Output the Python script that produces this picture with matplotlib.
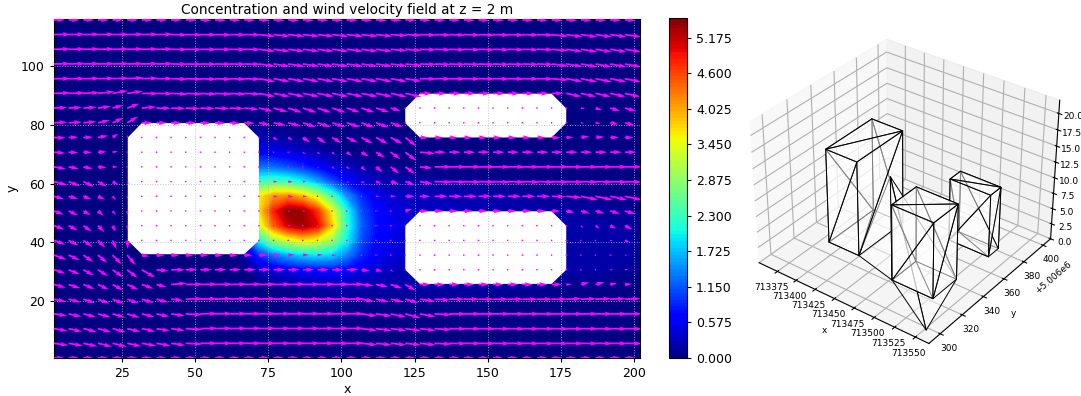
# Concentration / wind field at z = 2 m and the building mesh next to it
import numpy as np
import matplotlib
matplotlib.use('Agg')
import matplotlib.pyplot as plt
from matplotlib.patches import Polygon
from mpl_toolkits.mplot3d.art3d import Poly3DCollection

# --- CONCENTRATION (nodes every 5 m) ---
x_conc = [61.8, 66.8, 71.8, 76.8, 81.8, 86.8, 91.8, 96.8, 101.8, 106.8, 111.8, 116.8, 121.8,
          126.8, 136.8, 146.8, 156.8, 166.8, 176.8, 186.8, 196.8, 201.8]
y_conc = [85.7, 80.7, 75.7, 70.7, 65.7, 60.7, 55.7, 50.7, 45.7, 40.7, 35.7, 30.7, 25.7, 20.7, 15.7, 10.7]
conc = [
    [0.00, 0.00, 0.00, 0.00, 0.00, 0.00, 0.00, 0.00, 0.00, 0.00, 0.00, 0.00, 0.00, 0.00, 0.00, 0.00, 0.00, 0.00, 0.00, 0.00, 0.00, 0.00],
    [0.00, 0.01, 0.05, 0.05, 0.04, 0.03, 0.02, 0.01, 0.00, 0.00, 0.00, 0.00, 0.00, 0.00, 0.00, 0.00, 0.00, 0.00, 0.00, 0.00, 0.00, 0.00],
    [0.00, 0.15, 0.30, 0.18, 0.15, 0.10, 0.06, 0.03, 0.02, 0.01, 0.00, 0.00, 0.00, 0.00, 0.00, 0.00, 0.00, 0.00, 0.00, 0.00, 0.00, 0.00],
    [0.00, 0.30, 0.65, 0.55, 0.45, 0.33, 0.22, 0.14, 0.07, 0.04, 0.02, 0.01, 0.01, 0.01, 0.01, 0.01, 0.01, 0.00, 0.00, 0.00, 0.00, 0.00],
    [0.00, 0.60, 1.30, 1.25, 1.10, 0.90, 0.65, 0.45, 0.30, 0.18, 0.12, 0.08, 0.06, 0.05, 0.04, 0.03, 0.03, 0.02, 0.01, 0.01, 0.00, 0.00],
    [0.00, 1.10, 2.30, 2.40, 2.30, 2.00, 1.60, 1.10, 0.70, 0.45, 0.30, 0.22, 0.20, 0.16, 0.13, 0.10, 0.08, 0.06, 0.05, 0.03, 0.02, 0.02],
    [0.00, 1.80, 3.60, 4.10, 4.20, 3.90, 3.30, 2.40, 1.50, 0.90, 0.55, 0.40, 0.32, 0.30, 0.26, 0.22, 0.18, 0.14, 0.10, 0.08, 0.06, 0.05],
    [0.00, 1.80, 3.60, 4.80, 5.45, 5.35, 4.70, 3.50, 2.10, 1.10, 0.70, 0.50, 0.42, 0.32, 0.30, 0.26, 0.22, 0.18, 0.16, 0.14, 0.12, 0.10],
    [0.00, 1.60, 3.20, 4.40, 5.10, 5.35, 5.00, 3.80, 2.20, 1.20, 0.75, 0.55, 0.48, 0.34, 0.30, 0.27, 0.24, 0.22, 0.20, 0.18, 0.16, 0.14],
    [0.00, 0.80, 2.00, 2.90, 3.30, 3.60, 3.40, 2.90, 2.00, 1.10, 0.70, 0.50, 0.42, 0.34, 0.30, 0.27, 0.24, 0.22, 0.22, 0.20, 0.18, 0.16],
    [0.00, 0.20, 0.90, 1.30, 1.60, 1.80, 1.90, 1.80, 1.40, 0.90, 0.60, 0.45, 0.40, 0.32, 0.30, 0.27, 0.24, 0.22, 0.22, 0.20, 0.18, 0.16],
    [0.00, 0.03, 0.30, 0.45, 0.55, 0.65, 0.70, 0.75, 0.65, 0.50, 0.40, 0.30, 0.25, 0.25, 0.25, 0.23, 0.22, 0.20, 0.20, 0.18, 0.15, 0.12],
    [0.00, 0.00, 0.04, 0.08, 0.12, 0.18, 0.22, 0.24, 0.24, 0.22, 0.20, 0.20, 0.20, 0.20, 0.20, 0.18, 0.16, 0.14, 0.10, 0.08, 0.06, 0.05],
    [0.00, 0.00, 0.00, 0.01, 0.02, 0.05, 0.07, 0.09, 0.10, 0.10, 0.10, 0.10, 0.10, 0.10, 0.10, 0.08, 0.07, 0.05, 0.03, 0.02, 0.01, 0.01],
    [0.00, 0.00, 0.00, 0.00, 0.00, 0.01, 0.01, 0.02, 0.02, 0.03, 0.03, 0.03, 0.03, 0.03, 0.03, 0.02, 0.02, 0.01, 0.01, 0.00, 0.00, 0.00],
    [0.00, 0.00, 0.00, 0.00, 0.00, 0.00, 0.00, 0.00, 0.00, 0.00, 0.00, 0.00, 0.00, 0.00, 0.00, 0.00, 0.00, 0.00, 0.00, 0.00, 0.00, 0.00],
]
conc_ticks = [0.000, 0.575, 1.150, 1.725, 2.300, 2.875, 3.450, 4.025, 4.600, 5.175]

# --- WIND FIELD (arrow length x10 and direction in degrees, top row first) ---
x_wind = [1.8 + 5 * k for k in range(40)]
y_wind = [115.7 - 5 * k for k in range(24)]
speed_rows = [
    [32] * 40,
    [48] * 40,
    [48] * 40,
    [48] * 40,
    [48] * 40,
    [48] * 4 + [45, 45] + [48] * 19 + [35] * 10 + [45] * 5,
    [38, 38, 38, 38, 32, 38] + [42] * 14 + [40] * 3 + [30, 0] + [0] * 10 + [0, 12, 20, 30, 35],
    [38, 38, 38, 35, 34, 36] + [30] * 8 + [32, 36, 38, 40, 40, 40, 40, 40, 40, 38] + [0] + [0] * 10 + [0, 10, 15, 25, 30],
    [33, 28, 28, 30, 20, 8] + [0] * 8 + [0, 15, 15, 25, 30, 32, 35, 37, 39, 39] + [40] + [25] * 10 + [20, 25, 25, 25, 25],
    [33, 28, 25, 25, 15, 3] + [0] * 8 + [0, 3, 4, 10, 10, 12, 18, 25, 30, 35] + [40] + [45] + [33] * 14,
    [35, 30, 28, 25, 15, 3] + [0] * 8 + [0, 5, 2, 5, 6, 10, 12, 17, 25, 32] + [35] + [36] + [50] * 14,
    [40, 35, 35, 30, 20, 8] + [0] * 8 + [6, 12, 14, 10, 4, 8, 9, 12, 18, 25] + [30] + [37] + [50] * 14,
    [30, 28, 25, 23, 15, 10] + [0] * 8 + [0, 13, 15, 12, 5, 4, 5, 5, 10, 15] + [27] + [30] + [38] * 8 + [40, 45, 50, 50, 50, 50],
    [30, 30, 25, 22, 15, 13] + [0] * 8 + [0, 3, 8, 8, 5, 1, 1, 1, 2, 5] + [20] + [25] * 10 + [25, 27, 27, 30, 32],
    [32, 30, 30, 27, 20, 12] + [0] * 8 + [0, 2, 8, 3, 1, 1, 1, 1, 1, 1] + [0] * 11 + [0, 10, 15, 20, 25],
    [35, 32, 32, 30, 28, 25] + [0] * 8 + [0, 2, 2, 2, 2, 2, 2, 2, 2, 2] + [0] * 11 + [0, 3, 3, 8, 15],
    [38, 35, 35, 35, 38, 38] + [22] + [23] * 7 + [25] + [20, 18, 18, 15, 12, 3, 4, 3, 3] + [0] * 11 + [0, 2, 2, 5, 8],
    [35, 35, 35, 35, 38, 38, 45, 35, 40] + [33] * 12 + [25, 20, 10] + [0] * 11 + [0, 3, 5, 8, 10],
    [35] * 5 + [36, 36, 30, 45] + [50] * 12 + [35, 35, 35, 35] + [30] * 10 + [15] + [25, 27, 20, 20],
    [36] * 8 + [35] + [50] * 12 + [38, 38, 38, 40] + [45] * 15,
    [38] * 8 + [40, 48] + [50] * 11 + [46] * 4 + [46] + [50] * 14,
    [40] * 9 + [48] + [50] * 11 + [46] * 4 + [46] + [50] * 14,
    [42] * 9 + [48] + [50] * 11 + [46] * 4 + [46] + [50] * 14,
    [30] * 40,
]
angle_rows = [
    [0] * 10 + [-2] * 30,
    [1] * 8 + [-1] * 6 + [-6] * 9 + [-4, -3] + [-2] * 9 + [-6, -8, -8, -8, -8, -8],
    [1] * 8 + [-1] * 6 + [-7] * 9 + [-5, -4] + [-2] * 9 + [-5, -8, -9, -9, -9, -9],
    [1] * 8 + [-1] * 6 + [-8] * 9 + [-7, -5] + [-2] * 9 + [-7, -9, -10, -10, -10, -10],
    [0, 0, 1, 1, 2, 3, 2, 0] + [-2] * 6 + [-10] * 9 + [-10, -9] + [-1] * 9 + [-5, -10, -11, -11, -11, -11],
    [2, 2, 3, 6, 10, 8, -1, -1] + [-3] * 6 + [-11] * 9 + [-12, -12] + [0] * 10 + [-12] * 5,
    [3, 3, 4, 8, 15, 20, 5, -1] + [-2] * 5 + [-5] + [-13, -15, -18, -18, -18, -18, -18, -18, -17, -15, 0] + [0] * 10 + [0, -10, -18, -15, -15],
    [3, 3, 5, 12, 25, 30] + [0, 0, -1, -1, -2, -2, -3, -3] + [-10, -12, -15, -18, -18, -18, -18, -20, -20, -20] + [0] + [0] * 10 + [0, -10, -10, -10, -15],
    [-2, 2, 2, 10, 35, 80] + [0] * 8 + [0, -35, -35, -35, -35, -30, -25, -28, -28, -28] + [-38] + [-2] * 10 + [2, 8, 5, 0, 0],
    [-5, -3, -2, 3, 10, 30] + [0] * 8 + [0, -30, -30, -38, -40, -40, -35, -30, -32, -35] + [-38] + [-5] + [0] * 14,
    [-10, -10, -10, -5, 0, 0] + [0] * 8 + [0, -30, -30, -30, -40, -40, -35, -40, -40, -38] + [-35] + [-5] + [0] * 14,
    [-15, -22, -25, -30, -30, -50] + [0] * 8 + [0, -5, -5, -5, -5, -15, -25, -30, -20, -15] + [-20] + [-10] + [-2] * 14,
    [-15, -15, -20, -25, -50, -80] + [0] * 8 + [0, -8, -5, -5, 0, 0, 0, 0, 0, 0] + [0] + [0] + [0] * 8 + [-2, -5, -12, -12, -12, -12],
    [-20, -25, -30, -40, -50, -85] + [0] * 8 + [0, -10, -10, -10, -10, 0, 0, 0, 0, 0] + [15] + [0] * 10 + [-10, -15, -15, -15, -15],
    [-20, -28, -35, -45, -65, -85] + [0] * 8 + [0] * 10 + [0] * 11 + [0, -45, -35, -25, -25],
    [-20, -28, -35, -45, -65, -85] + [0] * 8 + [0] * 10 + [0] * 11 + [0, 0, 0, -10, -20],
    [-20, -25, -35, -40, -45, -50, -10] + [-2] * 7 + [0] + [3, 3, 5, 5, 0, 0, 0, 0, 0] + [0] * 11 + [0, 0, 0, 0, 0],
    [-18, -22, -28, -32, -35, -38, -30, -5, 0] + [1] * 12 + [-8, -15, -40] + [0] * 11 + [0, 10, 10, 10, 10],
    [-15, -18, -22, -25, -28, -25, -20, -15, 5] + [1] * 12 + [-5, -10, -18, -30] + [0] * 10 + [5, 15, 15, 10, 5],
    [-12, -15, -18, -20, -22, -20, -17, -15, -5] + [2] * 6 + [1] * 6 + [-10, -12, -12, -15] + [-8, -3] + [0] * 8 + [2] * 5,
    [-8, -12, -14, -15, -16, -16, -14, -12, -8, -3] + [1] * 11 + [-8, -8, -12, -15] + [-10, -3] + [0] * 13,
    [-10, -13, -14, -15, -15, -13, -12, -10, -8, -4] + [1] * 11 + [-7, -7, -7, -8] + [-7, -4] + [-1] * 13,
    [-8, -10, -12, -13, -13, -12, -10, -10, -8, -3] + [0] * 11 + [-6, -6, -6, -6] + [-6, -3] + [-1] * 13,
    [0] * 40,
]

# --- BUILDING OUTLINES AT z = 2 m ---
building_left = [(27, 75.7), (31.8, 80.6), (66.8, 80.6), (71.8, 75.7), (71.8, 40.7), (66.8, 36), (31.8, 36), (27, 40.7)]
building_top = [(121.8, 85.6), (126.8, 90.6), (171.8, 90.6), (176.8, 85.6), (176.8, 80.6), (171.8, 75.7), (126.8, 75.7), (121.8, 80.6)]
building_low = [(121.8, 45.7), (126.8, 50.6), (171.8, 50.6), (176.8, 45.7), (176.8, 30.7), (171.8, 25.9), (126.8, 25.9), (121.8, 30.7)]

# --- BUILDING BOXES IN THE MESH (x0, x1, y0, y1, height) ---
boxes = [
    (713384, 713424, 5006329, 5006370, 15.0),
    (713477, 713528, 5006322, 5006344, 12.0),
    (713482, 713532, 5006372, 5006382, 10.0),
]
ground_a = (713358, 5006405)
ground_b = (713552, 5006298)

fig = plt.figure(figsize=(10.81, 3.96), dpi=100)
W, H = 1081.0, 396.0

# --- LEFT: FIELD ---
ax = fig.add_axes([54 / W, 1 - 358 / H, 586 / W, 339 / H])
ax.set_facecolor(plt.cm.jet(0.0))
cf = ax.contourf(x_conc, y_conc, np.array(conc), levels=np.linspace(0, 5.49, 100), cmap='jet')
for outline in [building_left, building_top, building_low]:
    ax.add_patch(Polygon(outline, closed=True, facecolor='white', edgecolor='none', zorder=2))

speed = np.array(speed_rows) / 10.0
angle = np.deg2rad(np.array(angle_rows))
X, Y = np.meshgrid(x_wind, y_wind)
ax.quiver(X, Y, speed * np.cos(angle), speed * np.sin(angle), color='magenta', angles='xy',
          scale_units='xy', scale=0.85, pivot='tail', units='width', width=0.003,
          headwidth=2.6, headlength=4.5, headaxislength=4, zorder=3)
ax.grid(True, color='#b8b8b8', linestyle=':', linewidth=0.7, alpha=0.8, zorder=4)
ax.set_axisbelow(False)
ax.set_xlim(1.8, 202)
ax.set_ylim(0.7, 116)
ax.set_xticks([25, 50, 75, 100, 125, 150, 175, 200])
ax.set_yticks([20, 40, 60, 80, 100])
ax.tick_params(labelsize=9, length=3)
ax.set_xlabel('x', fontsize=9, labelpad=2)
ax.set_ylabel('y', fontsize=9, labelpad=2)
ax.set_title('Concentration and wind velocity field at z = 2 m', fontsize=9.8, pad=3.5)

cax = fig.add_axes([669 / W, 1 - 358 / H, 18 / W, 340 / H])
cb = fig.colorbar(cf, cax=cax)
cb.set_ticks(conc_ticks)
cb.set_ticklabels(['%.3f' % t for t in conc_ticks])
cb.ax.tick_params(labelsize=9, length=3)

# --- RIGHT: MESH ---
ax3 = fig.add_axes([734 / W, 1 - 370 / H, 336 / W, 365 / H], projection='3d')
ax3.patch.set_alpha(0)
tris = []
for x0, x1, y0, y1, h in boxes:
    a, b, c, d = (x0, y0), (x1, y0), (x1, y1), (x0, y1)
    for p, q in [(a, b), (b, c), (c, d), (d, a)]:
        tris.append([p + (0,), q + (0,), q + (h,)])
        tris.append([p + (0,), q + (h,), p + (h,)])
    tris.append([a + (h,), b + (h,), c + (h,)])
    tris.append([a + (h,), c + (h,), d + (h,)])
    tris.append([d + (0,), a + (0,), b + (0,)])

# ground triangles between the boxes
left_box, front_box, back_box = boxes
tris.append([ground_a + (0,), ground_b + (0,), (front_box[0], front_box[2], 0)])
tris.append([ground_a + (0,), (left_box[1], left_box[2], 0), (front_box[0], front_box[2], 0)])
tris.append([ground_a + (0,), ground_b + (0,), (front_box[1], front_box[3], 0)])

mesh = Poly3DCollection(tris, facecolors=(1, 1, 1, 0.5), edgecolors='black', linewidths=0.7)
ax3.add_collection3d(mesh)
ax3.set_xlim(713350, 713566)
ax3.set_ylim(5006290, 5006408)
ax3.set_zlim(0, 22)
ax3.set_box_aspect((4, 4, 3.1))
ax3.set_proj_type('persp', focal_length=0.8)
ax3.set_xticks([713375, 713400, 713425, 713450, 713475, 713500, 713525, 713550])
ax3.set_yticks([5006300, 5006320, 5006340, 5006360, 5006380, 5006400])
ax3.set_zticks([0, 2.5, 5, 7.5, 10, 12.5, 15, 17.5, 20])
ax3.tick_params(labelsize=6.5, pad=-2)
ax3.set_xlabel('x', fontsize=6.5, labelpad=-6)
ax3.set_ylabel('y', fontsize=6.5, labelpad=-6)
ax3.yaxis.get_offset_text().set_fontsize(6.5)
ax3.view_init(elev=33, azim=-53)

fig.savefig('out.png', dpi=100)
